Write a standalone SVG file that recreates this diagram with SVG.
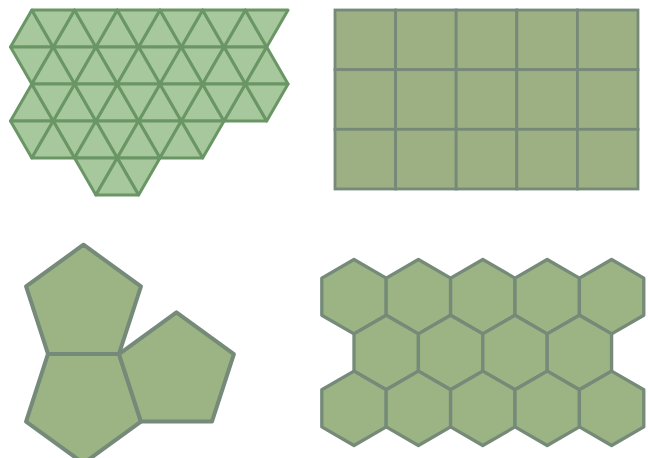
<svg xmlns="http://www.w3.org/2000/svg" xmlns:xlink="http://www.w3.org/1999/xlink" width="648" height="458" viewBox="0 0 648 458">
<style>
.tri{fill:#a7c79c;stroke:#6a9665;stroke-width:3;stroke-linejoin:round}
.sq{fill:#9cb083;stroke:#778978;stroke-width:2.8}
.pen{fill:#9cb384;stroke:#758a78;stroke-width:4;stroke-linejoin:round}
.hex{fill:#9cb384;stroke:#758a78;stroke-width:3.3;stroke-linejoin:round}
</style>
<defs>
<path id="up" d="M0,37 L42.7,37 L21.35,0 Z"/>
<path id="dn" d="M0,0 L42.7,0 L21.35,37 Z"/>
<path id="hx" d="M0,-37.2 L32.2,-18.6 L32.2,18.6 L0,37.2 L-32.2,18.6 L-32.2,-18.6 Z"/>
</defs>
<rect width="648" height="458" fill="#ffffff"/>
<g id="triangles" class="tri">
<use href="#up" x="10.5" y="10"/><use href="#up" x="53.2" y="10"/><use href="#up" x="95.9" y="10"/><use href="#up" x="138.6" y="10"/><use href="#up" x="181.3" y="10"/><use href="#up" x="224" y="10"/>
<use href="#dn" x="31.85" y="10"/><use href="#dn" x="74.55" y="10"/><use href="#dn" x="117.25" y="10"/><use href="#dn" x="159.95" y="10"/><use href="#dn" x="202.65" y="10"/><use href="#dn" x="245.35" y="10"/>
<use href="#dn" x="10.5" y="47"/><use href="#dn" x="53.2" y="47"/><use href="#dn" x="95.9" y="47"/><use href="#dn" x="138.6" y="47"/><use href="#dn" x="181.3" y="47"/><use href="#dn" x="224" y="47"/>
<use href="#up" x="31.85" y="47"/><use href="#up" x="74.55" y="47"/><use href="#up" x="117.25" y="47"/><use href="#up" x="159.95" y="47"/><use href="#up" x="202.65" y="47"/><use href="#up" x="245.35" y="47"/>
<use href="#up" x="10.5" y="84"/><use href="#up" x="53.2" y="84"/><use href="#up" x="95.9" y="84"/><use href="#up" x="138.6" y="84"/><use href="#up" x="181.3" y="84"/><use href="#up" x="224" y="84"/>
<use href="#dn" x="31.85" y="84"/><use href="#dn" x="74.55" y="84"/><use href="#dn" x="117.25" y="84"/><use href="#dn" x="159.95" y="84"/><use href="#dn" x="202.65" y="84"/><use href="#dn" x="245.35" y="84"/>
<use href="#dn" x="10.5" y="121"/><use href="#dn" x="53.2" y="121"/><use href="#dn" x="95.9" y="121"/><use href="#dn" x="138.6" y="121"/><use href="#dn" x="181.3" y="121"/>
<use href="#up" x="31.85" y="121"/><use href="#up" x="74.55" y="121"/><use href="#up" x="117.25" y="121"/><use href="#up" x="159.95" y="121"/>
<use href="#dn" x="74.55" y="158"/><use href="#dn" x="117.25" y="158"/><use href="#up" x="95.9" y="158"/>
</g>
<g id="squares" class="sq">
<rect x="335" y="10" width="60.6" height="59.67"/><rect x="395.6" y="10" width="60.6" height="59.67"/><rect x="456.2" y="10" width="60.6" height="59.67"/><rect x="516.8" y="10" width="60.6" height="59.67"/><rect x="577.4" y="10" width="60.6" height="59.67"/>
<rect x="335" y="69.67" width="60.6" height="59.67"/><rect x="395.6" y="69.67" width="60.6" height="59.67"/><rect x="456.2" y="69.67" width="60.6" height="59.67"/><rect x="516.8" y="69.67" width="60.6" height="59.67"/><rect x="577.4" y="69.67" width="60.6" height="59.67"/>
<rect x="335" y="129.33" width="60.6" height="59.67"/><rect x="395.6" y="129.33" width="60.6" height="59.67"/><rect x="456.2" y="129.33" width="60.6" height="59.67"/><rect x="516.8" y="129.33" width="60.6" height="59.67"/><rect x="577.4" y="129.33" width="60.6" height="59.67"/>
</g>
<g id="pentagons" class="pen">
<polygon points="83.5,244.7 140.94,286.44 119,353.96 48,353.96 26.06,286.44"/>
<polygon points="83.5,463.3 140.94,421.56 119,353.96 48,353.96 26.06,421.56"/>
<polygon points="176.44,312.3 233.88,354.04 211.94,421.56 140.94,421.56 119,354.04"/>
</g>
<g id="hexagons" class="hex">
<use href="#hx" x="354" y="296.7"/><use href="#hx" x="418.4" y="296.7"/><use href="#hx" x="482.8" y="296.7"/><use href="#hx" x="547.2" y="296.7"/><use href="#hx" x="611.6" y="296.7"/>
<use href="#hx" x="386.2" y="352.5"/><use href="#hx" x="450.6" y="352.5"/><use href="#hx" x="515" y="352.5"/><use href="#hx" x="579.4" y="352.5"/>
<use href="#hx" x="354" y="408.3"/><use href="#hx" x="418.4" y="408.3"/><use href="#hx" x="482.8" y="408.3"/><use href="#hx" x="547.2" y="408.3"/><use href="#hx" x="611.6" y="408.3"/>
</g>
</svg>
